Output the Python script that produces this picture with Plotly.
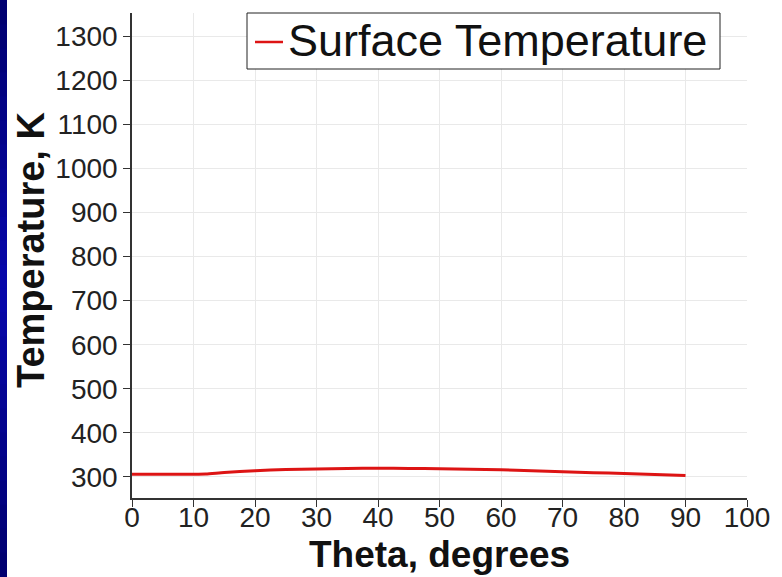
import plotly.graph_objects as go

# Surface temperature along the body, sampled every 5 degrees
theta_deg = [0, 5, 10, 12, 15, 20, 25, 30, 35, 40, 45, 50, 55, 60, 65, 70, 75, 80, 85, 90]
surface_temp_k = [306, 306, 306, 306.5, 310, 314, 316.5, 318, 319, 319.5, 319,
                  318.5, 317.5, 316, 314, 311.5, 309.5, 307.5, 305.5, 303]
series_name = "Surface Temperature"

x_ticks = list(range(0, 101, 10))
y_ticks = list(range(300, 1301, 100))

W, H = 782, 577
ML, MR, MT, MB = 132, 35, 13, 79
PW, PH = W - ML - MR, H - MT - MB


def px_x(p):
    """page pixel column -> paper x"""
    return (p - ML) / PW


def px_y(p):
    """page pixel row -> paper y"""
    return (H - MB - p) / PH


tick_font = dict(family="Liberation Sans, Arial", size=28, color="#222222")
title_font = dict(family="Liberation Sans, Arial", size=37, color="#111111")
line_color = "#dd1414"

fig = go.Figure()
fig.add_trace(go.Scatter(
    x=theta_deg, y=surface_temp_k, mode="lines", name=series_name,
    line=dict(color=line_color, width=3, shape="spline", smoothing=0.6),
    showlegend=False,
))

axis_common = dict(
    showline=True, linecolor="#333333", linewidth=1.5,
    ticks="outside", ticklen=7, tickcolor="#333333", tickwidth=1.2,
    showgrid=True, gridcolor="#e9e9e9", gridwidth=1,
    zeroline=False, tickfont=tick_font,
)
fig.update_xaxes(range=[0, 100], tickvals=x_ticks, ticktext=[str(v) for v in x_ticks],
                 ticklabelstandoff=-13, **axis_common)
fig.update_yaxes(range=[252, 1353], tickvals=y_ticks, ticktext=[str(v) for v in y_ticks],
                 **axis_common)

shapes = []
# dark blue strip down the left edge, deeper navy at top and bottom
n_bands = 24
band = H / n_bands
for i in range(n_bands):
    t = (i + 0.5) / n_bands
    k = 1 - abs(2 * t - 1)
    b = int(110 + 62 * k)
    r = int(8 * k)
    shapes.append(dict(
        type="rect", xref="paper", yref="paper",
        x0=px_x(0), x1=px_x(7),
        y0=px_y(min(H, (i + 1) * band + 1)), y1=px_y(i * band),
        line=dict(width=0), fillcolor=f"rgb({r},{r},{b})", layer="above",
    ))

# legend box with its line sample
shapes.append(dict(type="rect", xref="paper", yref="paper",
                   x0=px_x(247), x1=px_x(720), y0=px_y(69), y1=px_y(13),
                   line=dict(color="#222222", width=1), fillcolor="white", layer="above"))
shapes.append(dict(type="line", xref="paper", yref="paper",
                   x0=px_x(255), x1=px_x(283), y0=px_y(42), y1=px_y(42),
                   line=dict(color=line_color, width=2.5), layer="above"))

fig.update_layout(
    width=W, height=H,
    margin=dict(l=ML, r=MR, t=MT, b=MB, pad=0),
    paper_bgcolor="white", plot_bgcolor="white",
    showlegend=False,
    shapes=shapes,
    annotations=[
        dict(text=series_name, xref="paper", yref="paper",
             x=px_x(286), y=px_y(40), xanchor="left", yanchor="middle",
             showarrow=False,
             font=dict(family="Liberation Sans, Arial", size=45, color="#111111")),
        dict(text="<b>Theta, degrees</b>", xref="paper", yref="paper",
             x=0.5, y=px_y(577), xanchor="center", yanchor="bottom",
             showarrow=False, font=title_font),
        dict(text="<b>Temperature, K</b>", xref="paper", yref="paper",
             x=px_x(31), y=px_y(250), xanchor="center", yanchor="middle",
             textangle=-90, showarrow=False,
             font=dict(family="Liberation Sans, Arial", size=38, color="#111111")),
    ],
)

fig.write_html("out.html")
